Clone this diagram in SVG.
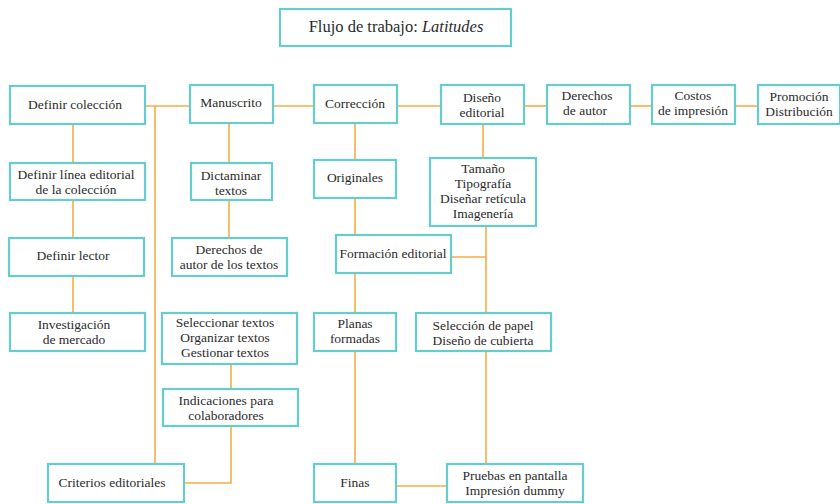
<svg xmlns="http://www.w3.org/2000/svg" width="840" height="504" viewBox="0 0 840 504">
<style>
.b{fill:#fff;stroke:#66CCCC;stroke-width:2.2}
.t{font-family:'Liberation Serif','DejaVu Serif',serif;font-size:13.5px;fill:#2b2b2b;text-anchor:middle}
.c{fill:none;stroke:#F7AD45;stroke-width:1.6}
</style>
<rect width="840" height="504" fill="#fff"/>
<g id="connectors">
<polyline class="c" points="145,106 190,106"/>
<polyline class="c" points="273,106 314,106"/>
<polyline class="c" points="397,106 441,106"/>
<polyline class="c" points="524,106 547,106"/>
<polyline class="c" points="630,106 652,106"/>
<polyline class="c" points="735,106 758,106"/>
<polyline class="c" points="155,106 155,464"/>
<polyline class="c" points="73,124 73,163"/>
<polyline class="c" points="73,200 73,238"/>
<polyline class="c" points="73,276 73,313"/>
<polyline class="c" points="229,123 229,163"/>
<polyline class="c" points="229,200 229,238"/>
<polyline class="c" points="231,364 231,389"/>
<polyline class="c" points="184,483 231,483 231,426"/>
<polyline class="c" points="355,123 355,160"/>
<polyline class="c" points="355,198 355,235"/>
<polyline class="c" points="355,273 355,313"/>
<polyline class="c" points="355,351 355,464"/>
<polyline class="c" points="396,486 447,486"/>
<polyline class="c" points="483,124 483,158"/>
<polyline class="c" points="486,226 486,313"/>
<polyline class="c" points="451,257 486,257"/>
<polyline class="c" points="486,351 486,464"/>
</g>
<g id="title"><rect class="b" x="280" y="9" width="231" height="37"/><text class="t" x="396" y="32" style="font-size:16.5px">Flujo de trabajo: <tspan font-style="italic">Latitudes</tspan></text></g>
<g id="n_def_coleccion"><rect class="b" x="10" y="86" width="135" height="38"/><text class="t" x="75" y="109">Definir colección</text></g>
<g id="n_manuscrito"><rect class="b" x="190" y="85" width="83" height="38"/><text class="t" x="231" y="107">Manuscrito</text></g>
<g id="n_correccion"><rect class="b" x="314" y="85" width="83" height="38"/><text class="t" x="355" y="108">Corrección</text></g>
<g id="n_diseno"><rect class="b" x="441" y="85" width="83" height="39"/><text class="t" x="482" y="102">Diseño</text><text class="t" x="482" y="117">editorial</text></g>
<g id="n_derechos"><rect class="b" x="547" y="85" width="83" height="39"/><text class="t" x="587" y="100">Derechos</text><text class="t" x="585" y="115">de autor</text></g>
<g id="n_costos"><rect class="b" x="652" y="85" width="83" height="39"/><text class="t" x="693" y="100">Costos</text><text class="t" x="693" y="115">de impresión</text></g>
<g id="n_promocion"><rect class="b" x="758" y="85" width="82" height="39"/><text class="t" x="799" y="101">Promoción</text><text class="t" x="799" y="116">Distribución</text></g>
<g id="n_def_linea"><rect class="b" x="10" y="163" width="135" height="37"/><text class="t" x="76" y="179">Definir línea editorial</text><text class="t" x="76" y="194">de la colección</text></g>
<g id="n_def_lector"><rect class="b" x="9" y="238" width="135" height="38"/><text class="t" x="73" y="260">Definir lector</text></g>
<g id="n_investigacion"><rect class="b" x="10" y="313" width="135" height="38"/><text class="t" x="74" y="329">Investigación</text><text class="t" x="74" y="344">de mercado</text></g>
<g id="n_criterios"><rect class="b" x="48" y="464" width="136" height="38"/><text class="t" x="112" y="487">Criterios editoriales</text></g>
<g id="n_dictaminar"><rect class="b" x="191" y="163" width="81" height="37"/><text class="t" x="231" y="180">Dictaminar</text><text class="t" x="231" y="195">textos</text></g>
<g id="n_derechos_textos"><rect class="b" x="172" y="238" width="115" height="38"/><text class="t" x="229" y="254">Derechos de</text><text class="t" x="229" y="269">autor de los textos</text></g>
<g id="n_seleccionar"><rect class="b" x="162" y="313" width="135" height="51"/><text class="t" x="225" y="327">Seleccionar textos</text><text class="t" x="225" y="342">Organizar textos</text><text class="t" x="225" y="357">Gestionar textos</text></g>
<g id="n_indicaciones"><rect class="b" x="163" y="389" width="135" height="37"/><text class="t" x="226" y="405">Indicaciones para</text><text class="t" x="226" y="420">colaboradores</text></g>
<g id="n_originales"><rect class="b" x="314" y="160" width="82" height="38"/><text class="t" x="355" y="182">Originales</text></g>
<g id="n_formacion"><rect class="b" x="336" y="235" width="115" height="38"/><text class="t" x="393" y="258">Formación editorial</text></g>
<g id="n_planas"><rect class="b" x="314" y="313" width="82" height="38"/><text class="t" x="355" y="328">Planas</text><text class="t" x="355" y="343">formadas</text></g>
<g id="n_finas"><rect class="b" x="314" y="464" width="82" height="38"/><text class="t" x="355" y="487">Finas</text></g>
<g id="n_tamano"><rect class="b" x="430" y="158" width="106" height="68"/><text class="t" x="483" y="173">Tamaño</text><text class="t" x="483" y="188">Tipografía</text><text class="t" x="483" y="203">Diseñar retícula</text><text class="t" x="483" y="218">Imagenería</text></g>
<g id="n_papel"><rect class="b" x="416" y="313" width="135" height="38"/><text class="t" x="483" y="330">Selección de papel</text><text class="t" x="483" y="345">Diseño de cubierta</text></g>
<g id="n_pruebas"><rect class="b" x="447" y="464" width="136" height="38"/><text class="t" x="515" y="480">Pruebas en pantalla</text><text class="t" x="515" y="495">Impresión dummy</text></g>
</svg>
